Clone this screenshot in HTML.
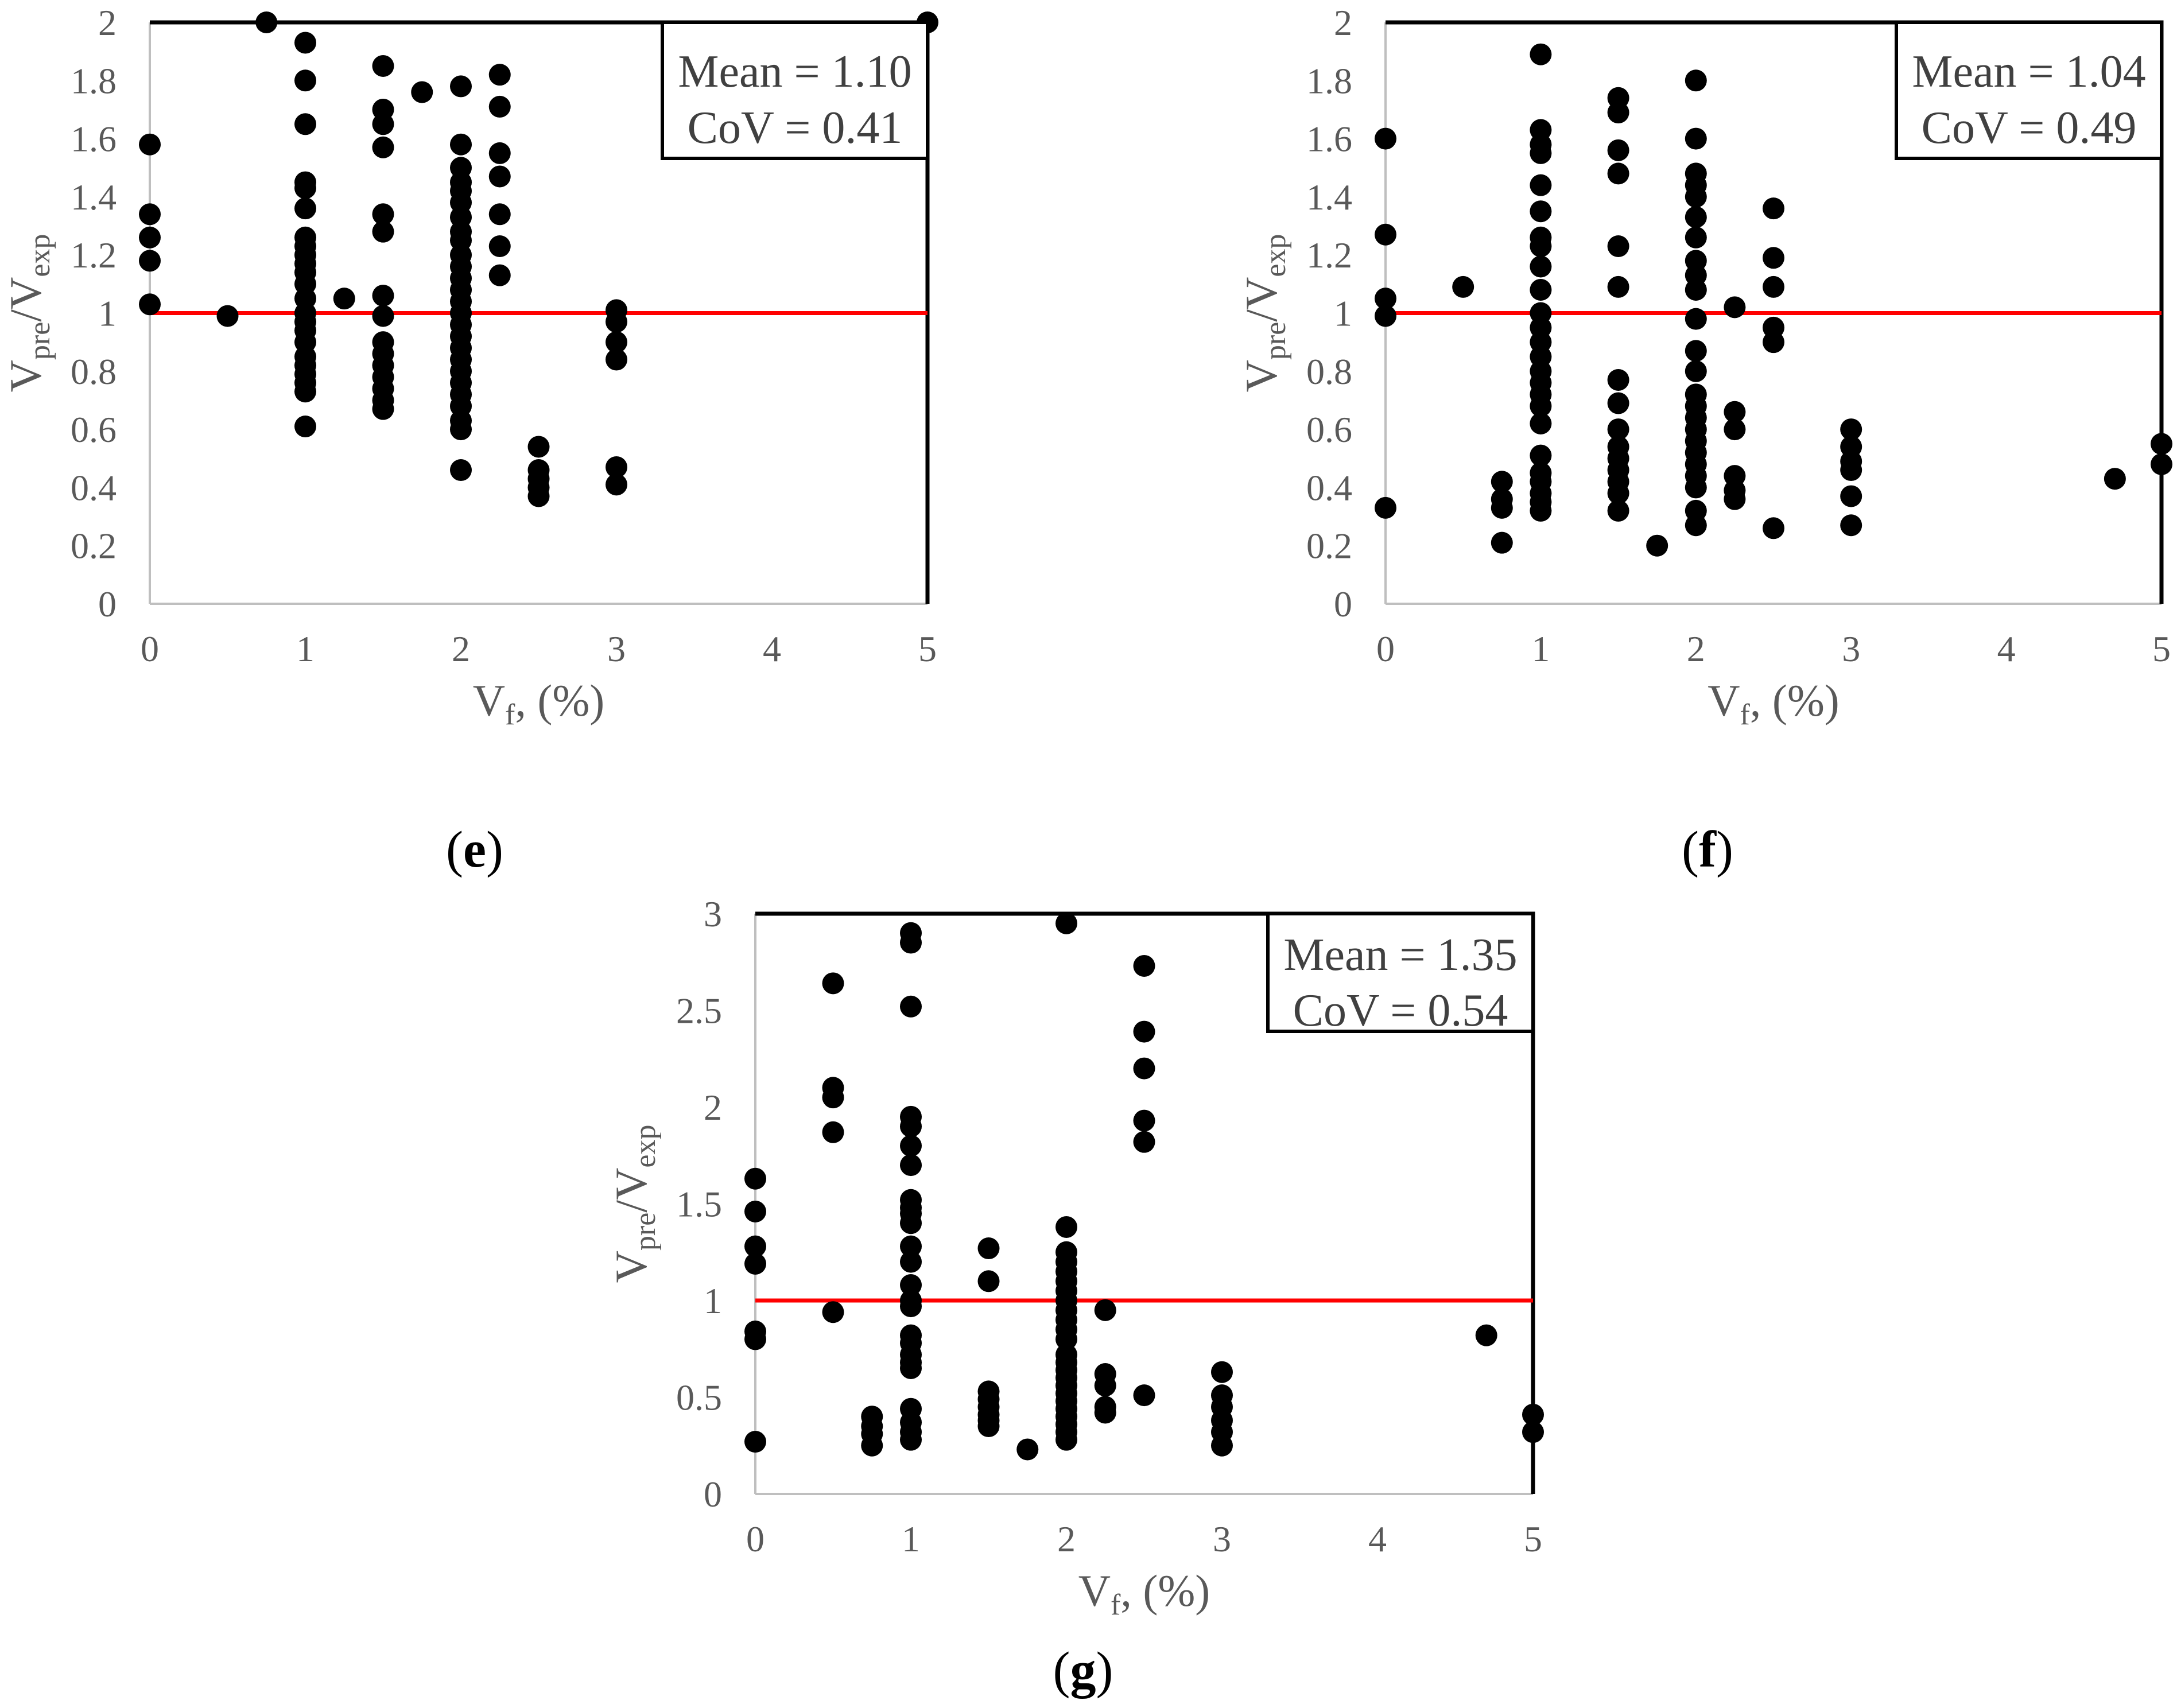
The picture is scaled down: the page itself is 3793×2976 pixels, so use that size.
<!DOCTYPE html>
<html><head><meta charset="utf-8"><style>
body{margin:0;background:#fff}
svg text{font-family:"Liberation Serif",serif}
</style></head><body>
<svg id="svg" width="3793" height="2971" xmlns="http://www.w3.org/2000/svg">
<rect width="3793" height="2971" fill="#fff"/>
</svg>
<script>
const eXs=[0,0.5,0.75,1,1.25,1.5,1.75,2,2.25,2.5,3,5];
const eYs=[[1.58,1.34,1.26,1.18,1.03],[0.99],[2.0],
[1.93,1.8,1.65,1.45,1.43,1.36,1.26,1.23,1.2,1.17,1.14,1.1,1.05,1.0,0.97,0.94,0.9,0.85,0.82,0.79,0.76,0.73,0.61],
[1.05],[1.85,1.7,1.65,1.57,1.34,1.28,1.06,0.99,0.9,0.86,0.82,0.78,0.74,0.7,0.67],[1.76],
[1.78,1.58,1.5,1.45,1.42,1.38,1.33,1.28,1.25,1.2,1.16,1.12,1.08,1.04,1.0,0.96,0.92,0.88,0.84,0.8,0.76,0.72,0.68,0.63,0.6,0.46],
[1.82,1.71,1.55,1.47,1.34,1.23,1.13],[0.54,0.46,0.43,0.4,0.37],[1.01,0.97,0.9,0.84,0.47,0.41],[2.0]];
const fXs=[0,0.5,0.75,1,1.5,1.75,2,2.25,2.5,3,4.7,5];
const fYs=[[1.6,1.27,1.05,0.99,0.33],[1.09],[0.42,0.36,0.33,0.21],
[1.89,1.63,1.58,1.55,1.44,1.35,1.26,1.23,1.16,1.08,1.0,0.95,0.9,0.85,0.8,0.76,0.72,0.68,0.62,0.51,0.45,0.42,0.38,0.35,0.32],
[1.74,1.69,1.56,1.48,1.23,1.09,0.77,0.69,0.6,0.54,0.5,0.46,0.42,0.38,0.32],[0.2],
[1.8,1.6,1.48,1.44,1.4,1.33,1.26,1.18,1.13,1.08,0.98,0.87,0.8,0.72,0.68,0.64,0.6,0.56,0.52,0.48,0.44,0.4,0.32,0.27],
[1.02,0.66,0.6,0.44,0.39,0.36],[1.36,1.19,1.09,0.95,0.9,0.26],[0.6,0.54,0.49,0.46,0.37,0.27],[0.43],[0.55,0.48]];
const gXs=[0,0.5,0.75,1,1.5,1.75,2,2.25,2.5,3,4.7,5];
const gYs=[[1.63,1.46,1.28,1.19,0.84,0.8,0.27],[2.64,2.1,2.05,1.87,0.94],[0.4,0.35,0.31,0.25],
[2.9,2.85,2.52,1.95,1.9,1.8,1.7,1.52,1.48,1.45,1.4,1.28,1.2,1.08,1.0,0.97,0.82,0.78,0.72,0.68,0.65,0.44,0.37,0.32,0.28],
[1.27,1.1,0.53,0.49,0.45,0.41,0.38,0.35],[0.23],
[2.95,1.38,1.25,1.2,1.15,1.1,1.05,1.0,0.95,0.9,0.85,0.8,0.72,0.68,0.64,0.6,0.56,0.52,0.48,0.44,0.4,0.36,0.32,0.28],
[0.95,0.62,0.56,0.45,0.42],[2.73,2.39,2.2,1.93,1.82,0.51],[0.63,0.51,0.45,0.38,0.32,0.25],[0.82],[0.41,0.32]];
const xTicks=[0,1,2,3,4,5];
const yTicks2=[0,0.2,0.4,0.6,0.8,1,1.2,1.4,1.6,1.8,2];
const yTicks3=[0,0.5,1,1.5,2,2.5,3];
const stats={e:["Mean = 1.10","CoV = 0.41"],f:["Mean = 1.04","CoV = 0.49"],g:["Mean = 1.35","CoV = 0.54"]};

const svg=document.getElementById('svg');
const NS='http://www.w3.org/2000/svg';
function mk(tag,attrs,parent){const el=document.createElementNS(NS,tag);for(const k in attrs)el.setAttribute(k,attrs[k]);(parent||svg).appendChild(el);return el;}

function chart(id,L,R,T,B,ymax,yTicks,xs,ys,leg,label,labX,labY){
  const g=mk('g',{});
  
  
  const sx=v=>L+(R-L)*v/5, sy=v=>B-(B-T)*v/ymax;
  const ax=mk('line',{x1:L,y1:B,x2:R,y2:B,stroke:'#bfbfbf','stroke-width':4},g);
  
  
  const ay=mk('line',{x1:L,y1:T,x2:L,y2:B,stroke:'#bfbfbf','stroke-width':4},g);
  
  
  const fr=mk('path',{d:`M${L} ${T}H${R}V${B}`,fill:'none',stroke:'#000','stroke-width':7},g);
  
  
  xTicks.forEach(t=>{const tx=mk('text',{x:sx(t),y:B+100,'font-size':64,fill:'#595959','text-anchor':'middle'},g);tx.textContent=t;
    
    });
  yTicks.forEach(t=>{const tx=mk('text',{x:L-58,y:sy(t)+22,'font-size':64,fill:'#595959','text-anchor':'end'},g);tx.textContent=t;
    
    });
  const ref=mk('line',{x1:L,y1:sy(1),x2:R,y2:sy(1),stroke:'#ff0000','stroke-width':7},g);
  
  
  xs.forEach((x,i)=>ys[i].forEach(y=>{const c=mk('circle',{cx:sx(x),cy:sy(y),r:19,fill:'#000'},g);
    
    }));
  const lw=462,lh=(ymax==2?237:205);
  const lb=mk('rect',{x:R-lw,y:T,width:lw,height:lh,fill:'#fff',stroke:'#000','stroke-width':6},g);
  
  
  leg.forEach((s,i)=>{const tx=mk('text',{x:R-lw/2,y:T+(ymax==2?112:98)+i*(ymax==2?98:97),'font-size':80,fill:'#404040','text-anchor':'middle'},g);tx.textContent=s;
    
    });
  const xt=mk('text',{x:(L+R)/2,y:B+195,'font-size':78,fill:'#595959','text-anchor':'middle'},g);
  xt.innerHTML='V<tspan font-size="52" dy="15">f</tspan><tspan dy="-15">, (%)</tspan>';
  
  
  const yc=(T+B)/2, yx=L-190;
  const yt=mk('text',{x:yx,y:yc,'font-size':78,fill:'#595959','text-anchor':'middle',transform:`rotate(-90 ${yx} ${yc})`},g);
  yt.innerHTML='V<tspan font-size="52" dy="15">pre</tspan><tspan dy="-15">/V</tspan><tspan font-size="52" dy="15">exp</tspan>';
  
  
  if(label){const lt=mk('text',{x:labX,y:labY,'font-size':90,fill:'#000','text-anchor':'middle'},g);
    lt.innerHTML='(<tspan font-weight="bold">'+label+'</tspan>)';
    
    }
}
chart('e',261,1616,39,1052,2,yTicks2,eXs,eYs,stats.e,'e',827,1510);
chart('f',2414,3766,39,1052,2,yTicks2,fXs,fYs,stats.f,'f',2975,1510);
chart('g',1316,2671,1592,2603,3,yTicks3,gXs,gYs,stats.g,'g',1887,2940);
</script>
</body></html>
